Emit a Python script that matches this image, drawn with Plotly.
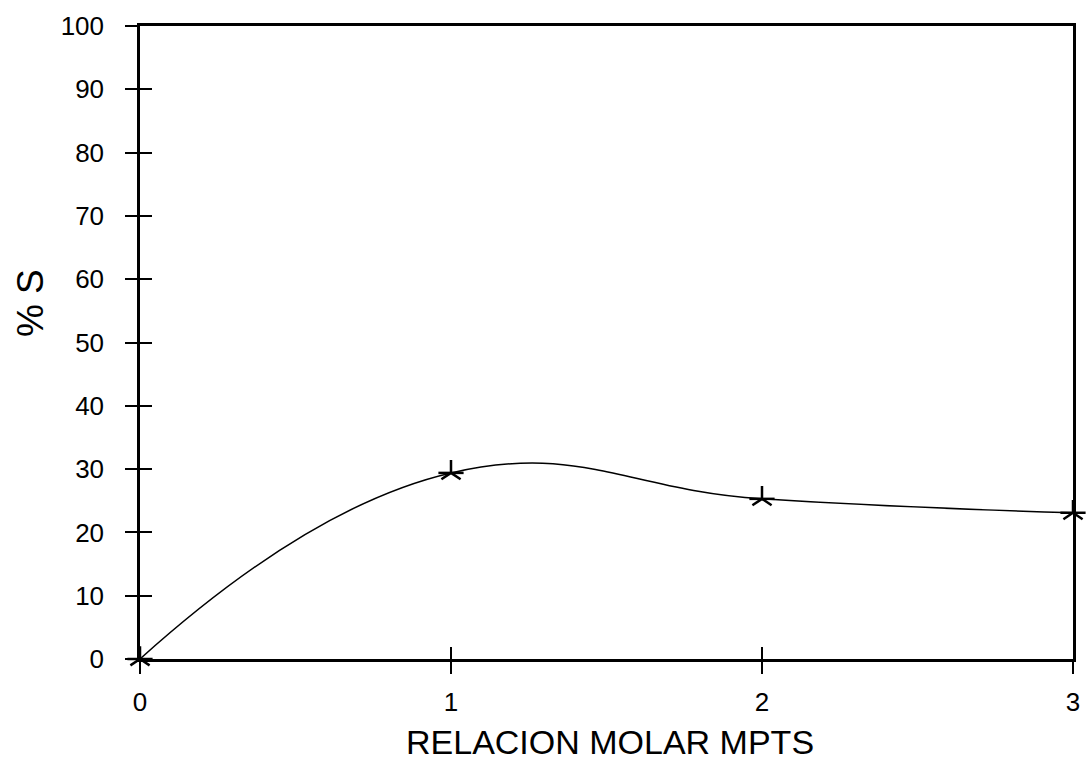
import plotly.graph_objects as go

relacion_molar = [0, 1, 2, 3]
porcentaje_s = [0, 29.4, 25.3, 23.1]
x_ticks = [0, 1, 2, 3]
y_ticks = [0, 10, 20, 30, 40, 50, 60, 70, 80, 90, 100]
x_title = "RELACION MOLAR MPTS"
y_title = "% S"

FONT = "Arial, Liberation Sans, sans-serif"

fig = go.Figure()
fig.add_trace(go.Scatter(
    x=relacion_molar, y=porcentaje_s, mode="lines",
    line=dict(color="black", width=1.5, shape="spline", smoothing=1.3),
    showlegend=False, hoverinfo="skip", cliponaxis=False))
fig.add_trace(go.Scatter(
    x=relacion_molar, y=porcentaje_s, mode="markers",
    marker=dict(symbol="y-up-open", size=16, color="black",
                line=dict(color="black", width=2.5)),
    showlegend=False, cliponaxis=False))
fig.add_trace(go.Scatter(
    x=relacion_molar, y=porcentaje_s, mode="markers",
    marker=dict(symbol="line-ew-open", size=18, color="black",
                line=dict(color="black", width=2.5)),
    showlegend=False, hoverinfo="skip", cliponaxis=False))

L, R, T, B = 140, 11, 22, 108
W, H = 1091, 767
pw, ph = W - L - R, H - T - B

fig.update_layout(
    width=W, height=H,
    margin=dict(l=L, r=R, t=T, b=B),
    paper_bgcolor="white", plot_bgcolor="white",
    font=dict(family=FONT, color="black", size=26),
    xaxis=dict(range=[0, 3], tickvals=x_ticks, ticks="outside", ticklen=12,
               tickwidth=1.5, tickcolor="black", showgrid=False, zeroline=False,
               showline=True, linecolor="black", linewidth=2.5, mirror=True,
               ticklabelstandoff=6, tickfont=dict(size=26)),
    yaxis=dict(range=[0, 100], tickvals=y_ticks, ticks="outside", ticklen=12,
               tickwidth=1.5, tickcolor="black", showgrid=False, zeroline=False,
               showline=True, linecolor="black", linewidth=2.5, mirror=True,
               ticklabelstandoff=16, tickfont=dict(size=26)),
    xaxis2=dict(range=[0, 3], tickvals=x_ticks, ticks="inside", ticklen=12,
                tickwidth=1.5, tickcolor="black", showticklabels=False,
                showgrid=False, zeroline=False, showline=False,
                overlaying="x", side="bottom", anchor="y"),
    yaxis2=dict(range=[0, 100], tickvals=y_ticks, ticks="inside", ticklen=12,
                tickwidth=1.5, tickcolor="black", showticklabels=False,
                showgrid=False, zeroline=False, showline=False,
                overlaying="y", side="left", anchor="x"),
    annotations=[
        dict(text=x_title, xref="paper", yref="paper",
             x=(614 - L) / pw, y=(H - B - 743) / ph,
             xanchor="center", yanchor="middle", showarrow=False,
             font=dict(size=34)),
        dict(text=y_title, xref="paper", yref="paper", textangle=-90,
             x=(29 - L) / pw, y=(H - B - 301) / ph,
             xanchor="center", yanchor="middle", showarrow=False,
             font=dict(size=37)),
    ],
)
fig.add_trace(go.Scatter(x=[None], y=[None], xaxis="x2", yaxis="y2",
                         showlegend=False, hoverinfo="skip"))

fig.write_html("out.html")
